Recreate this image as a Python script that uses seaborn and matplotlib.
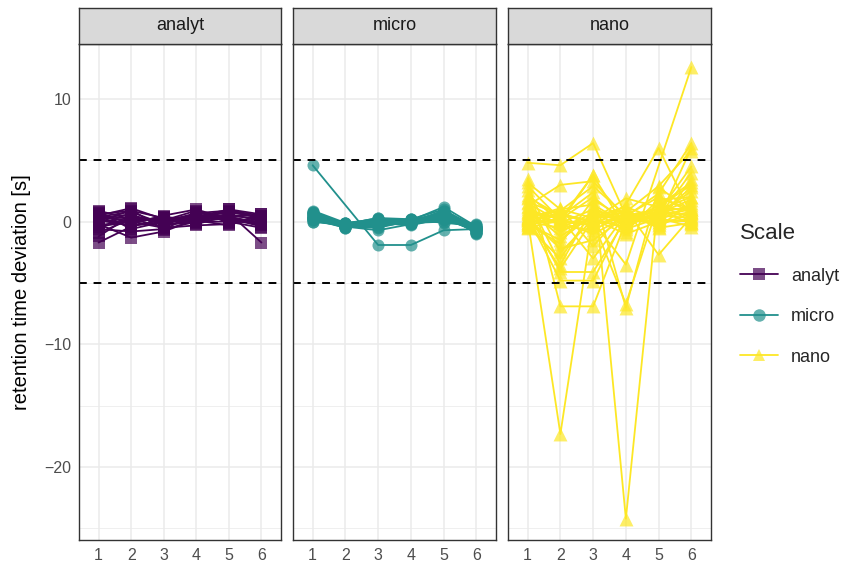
import numpy as np
import pandas as pd
import matplotlib
matplotlib.use("Agg")
import matplotlib.pyplot as plt
from matplotlib.lines import Line2D
import seaborn as sns

sns.set_style("white")
plt.rcParams['font.family'] = ['Liberation Sans', 'DejaVu Sans']

nan = np.nan
runs = [1, 2, 3, 4, 5, 6]
scales = ["analyt", "micro", "nano"]
scale_colors = ["#440154", "#21908C", "#FDE725"]
scale_markers = ["s", "o", "^"]
yticks = [10, 0, -10, -20]
ytick_labels = ["10", "0", "\u221210", "\u221220"]
limit_lines = [5, -5]

# retention time deviation per compound (rows) for runs 1..6
analyt_runs = [
    [0.9, 0.2, 0.1, 0.3, 0.8, 0.4],
    [0.7, -0.2, 0.5, 1.0, 0.2, 0.0],
    [0.5, 1.1, 0.2, 0.4, 1.0, 0.6],
    [0.3, 0.6, -0.3, 0.1, 0.5, 0.2],
    [0.1, -0.1, 0.4, 0.0, 0.3, -0.3],
    [0.0, 0.3, 0.0, 0.7, 0.9, 0.5],
    [-0.2, -1.3, -0.8, 0.2, 0.4, -0.1],
    [-0.4, 0.0, -0.5, -0.3, -0.2, 0.3],
    [-1.7, -0.4, 0.2, 0.5, 0.1, -0.2],
    [0.4, 0.8, -0.2, -0.1, 0.7, -1.7],
    [0.6, 0.9, 0.3, 0.2, 0.6, 0.1],
    [-0.6, -0.8, -0.6, 0.0, 0.0, -0.5],
    [0.2, 0.4, 0.1, 0.9, -0.1, 0.4],
    [-0.9, 0.2, -0.4, 0.3, 0.2, 0.0],
    [0.8, -0.6, 0.0, 0.1, 1.0, 0.2],
    [-0.3, 0.1, 0.3, -0.2, 0.5, 0.5],
    [0.1, -0.3, -0.1, 0.6, 0.3, -0.4],
    [-1.2, 0.5, -0.2, 0.4, 0.8, 0.3],
    [0.5, 0.0, 0.4, 0.1, -0.3, 0.6],
    [-0.1, 1.0, -0.7, 0.8, 0.4, -0.2],
]

micro_runs = [
    [4.6, nan, -1.9, -1.9, -0.7, -0.6],
    [0.9, -0.1, 0.2, 0.1, 1.2, -0.4],
    [0.8, -0.2, 0.3, 0.2, 1.0, -0.6],
    [0.7, -0.3, 0.1, 0.0, 0.9, -0.8],
    [0.6, -0.4, 0.0, -0.1, 0.8, -1.0],
    [0.6, -0.2, -0.1, 0.1, 0.7, -0.5],
    [0.5, -0.3, 0.2, 0.0, 0.6, -0.7],
    [0.5, -0.1, -0.2, 0.2, 0.5, -0.3],
    [0.4, -0.4, 0.1, -0.2, 0.5, -0.9],
    [0.4, -0.2, 0.0, 0.0, 0.4, -0.6],
    [0.3, -0.3, -0.3, -0.1, 0.4, -0.4],
    [0.3, -0.5, 0.1, 0.1, 0.3, -0.8],
    [0.2, -0.2, -0.1, -0.3, 0.3, -0.5],
    [0.2, -0.3, 0.2, 0.0, 0.2, -0.7],
    [0.1, -0.4, -0.7, -0.2, 0.2, -0.6],
    [0.1, -0.1, 0.0, 0.1, 0.1, -0.2],
    [0.0, -0.3, -0.2, -0.1, 0.0, -0.4],
    [0.0, -0.2, 0.1, 0.2, -0.1, -0.3],
    [0.8, -0.4, -0.4, 0.0, 0.6, -0.9],
    [0.7, -0.2, 0.3, -0.1, 0.8, -0.5],
    [0.5, -0.4, -0.5, 0.1, 0.7, -0.7],
    [0.3, -0.1, 0.0, -0.2, 0.9, -0.4],
    [0.6, -0.3, 0.1, 0.0, 0.5, -0.6],
    [0.2, -0.5, -0.2, 0.1, 0.4, -0.8],
]

nano_runs = [
    [4.8, 4.6, 6.4, 0.5, 1.0, 2.0],
    [3.5, -6.9, -6.9, 0.0, 0.5, 1.0],
    [3.2, 1.0, 0.3, 0.8, 2.9, 5.8],
    [2.9, 0.2, 3.8, -0.6, 0.3, 0.8],
    [2.6, -2.5, 0.2, 1.9, 1.2, 3.0],
    [2.2, 0.0, -1.0, 0.4, 2.3, 6.4],
    [1.9, -3.5, 1.2, -0.3, 0.6, 2.5],
    [1.6, 0.6, 0.0, -6.7, 1.5, 0.0],
    [1.3, 3.0, 3.3, 0.3, 0.8, 4.5],
    [1.0, -1.2, 0.5, 0.9, -0.4, 1.5],
    [0.8, -4.1, -4.1, 0.2, 0.5, 0.3],
    [0.6, 0.4, 2.4, -7.0, 2.8, 0.9],
    [0.5, 0.0, 3.8, -24.2, 2.0, 1.0],
    [0.4, -4.8, -4.8, 0.5, 1.0, -0.2],
    [0.3, 1.1, -2.0, 1.0, -2.7, 0.4],
    [0.2, -17.3, 0.3, 0.5, 0.8, 1.2],
    [0.1, 0.0, 0.0, -3.5, nan, 12.6],
    [0.0, -0.5, 0.7, 0.0, 0.4, 4.0],
    [-0.1, 0.8, -0.4, 1.4, 6.0, 0.6],
    [-0.2, -1.8, 1.8, 0.2, -0.2, 3.5],
    [-0.3, 0.3, -3.0, 0.6, 0.3, -0.4],
    [-0.4, -3.0, 0.9, -0.8, 1.8, 2.0],
    [-0.5, 0.1, -0.2, 0.3, 0.0, 0.2],
    [0.7, -0.8, 0.4, 1.2, 0.2, 6.0],
    [0.0, 1.0, 1.4, -0.2, 1.1, 1.0],
    [1.2, -0.3, -0.7, 0.7, -0.5, -0.1],
    [2.0, 0.5, 0.1, -0.4, 0.9, 0.5],
    [-0.2, -1.5, 0.6, 0.1, 0.5, 2.8],
    [0.3, -2.2, -1.5, 0.4, 0.2, 0.0],
    [0.9, 0.2, 2.0, -0.1, 0.7, 1.8],
    [-0.4, 0.7, -0.1, 0.9, -0.3, 0.7],
    [0.1, -0.1, 1.0, 0.0, 1.3, 3.2],
    [1.5, 0.0, -0.3, 0.6, 0.1, 1.4],
    [0.2, -3.8, 0.2, -1.0, 0.0, 0.1],
    [0.4, 0.9, 2.9, 0.5, 2.0, 0.8],
]

# long table: one row per compound and run
rows = []
for scale, table in zip(scales, [analyt_runs, micro_runs, nano_runs]):
    for i, vals in enumerate(table):
        for run, v in zip(runs, vals):
            rows.append({"Scale": scale, "compound": f"{scale}_{i}", "run": run, "deviation": v})
df = pd.DataFrame(rows).dropna()

fig = plt.figure(figsize=(8.45, 5.66), dpi=100)
W, H = 845, 566
panel_x = [(79, 281), (293, 496), (508, 711)]
top, bottom, strip_top = 44, 540, 8
marker_size = {"s": 85, "o": 75, "^": 100}

for k, (scale, color, marker) in enumerate(zip(scales, scale_colors, scale_markers)):
    x0, x1 = panel_x[k]
    ax = fig.add_axes([x0 / W, 1 - bottom / H, (x1 - x0) / W, (bottom - top) / H])
    sub = df[df["Scale"] == scale]

    ax.set_xlim(0.4, 6.6)
    ax.set_ylim(-25.94, 14.48)
    # ggplot-like grid
    for v in runs:
        ax.axvline(v, color="#EBEBEB", lw=1.1, zorder=0)
    for v in yticks:
        ax.axhline(v, color="#EBEBEB", lw=1.1, zorder=0)
    for v in [5, -5, -15, -25]:
        ax.axhline(v, color="#EBEBEB", lw=0.55, zorder=0)

    sns.lineplot(data=sub, x="run", y="deviation", units="compound", estimator=None,
                 color=color, lw=1.3, ax=ax, legend=False, zorder=2)
    sns.scatterplot(data=sub, x="run", y="deviation", color=color, marker=marker,
                    s=marker_size[marker], alpha=0.7, linewidth=0,
                    ax=ax, legend=False, zorder=3)
    for v in limit_lines:
        ax.axhline(v, color="black", lw=1.4, ls=(0, (4, 3.5)), zorder=4)

    ax.set_xticks(runs)
    ax.set_xticklabels([str(r) for r in runs])
    ax.set_yticks(yticks)
    if k == 0:
        ax.set_yticklabels(ytick_labels)
    else:
        ax.set_yticklabels([])
    ax.tick_params(axis="both", direction="out", length=3.5, width=0.9, color="#333333",
                   labelsize=11.5, labelcolor="#4D4D4D", pad=2)
    if k != 0:
        ax.tick_params(axis="y", length=0)
    ax.set_xlabel("")
    ax.set_ylabel("")
    for sp in ax.spines.values():
        sp.set_color("#333333")
        sp.set_linewidth(1.0)
        sp.set_zorder(5)

    # facet strip
    sax = fig.add_axes([x0 / W, 1 - top / H, (x1 - x0) / W, (top - strip_top) / H])
    sax.set_facecolor("#D9D9D9")
    sax.set_xticks([])
    sax.set_yticks([])
    for sp in sax.spines.values():
        sp.set_color("#333333")
        sp.set_linewidth(1.0)
    sax.text(0.5, 0.5, scale, ha="center", va="center", fontsize=13, color="#1A1A1A",
             transform=sax.transAxes)

fig.text(22 / W, 1 - 292 / H, "retention time deviation [s]", rotation=90,
         ha="center", va="center", fontsize=14.5, color="black")

handles = [Line2D([0], [0], color=c, lw=1.3, marker=m, markersize=9,
                  markerfacecolor=matplotlib.colors.to_rgba(c, 0.7), markeredgewidth=0)
           for c, m in zip(scale_colors, scale_markers)]
leg = fig.legend(handles, scales, title="Scale", loc="upper left",
                 bbox_to_anchor=(733 / W, 1 - 216 / H), frameon=False,
                 fontsize=13, title_fontsize=16, handlelength=2.1,
                 labelspacing=1.3, handletextpad=0.7, borderaxespad=0)
leg._legend_box.align = "left"

fig.savefig("out.png", dpi=100)
